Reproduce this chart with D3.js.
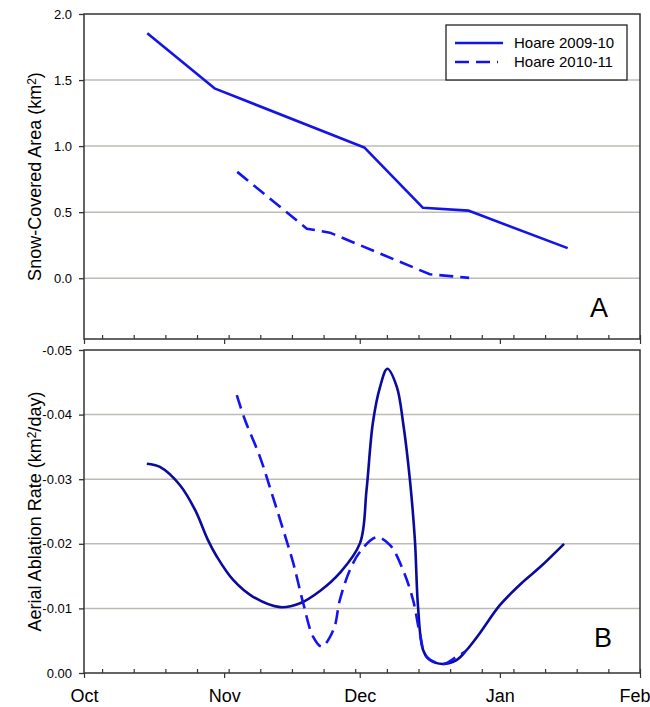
<!DOCTYPE html>
<html>
<head>
<meta charset="utf-8">
<script src="https://cdn.jsdelivr.net/npm/d3@7"></script>
<style>
  body { margin: 0; background: #fff; }
  svg text { font-family: Arial, "Liberation Sans", sans-serif; fill: #000; }
</style>
</head>
<body>
<div id="chart"></div>
<script>
// days counted from Oct 1 of each season
const areaDays0910 = [14, 29, 62, 75, 85, 107];
const areaVals0910 = [1.855, 1.435, 0.99, 0.533, 0.512, 0.228];
const areaDays1011 = [33.9, 49.3, 54.4, 76.5, 85.2];
const areaVals1011 = [0.805, 0.375, 0.345, 0.03, 0.003];

const rateDays0910 = [13.9, 16.8, 21.2, 24.6, 27.4, 29.4, 33, 37.4, 43.4, 47.8, 52.2, 56.6, 61.06,
  62.5, 63.9, 65.5, 67.1, 69.2, 70.6, 72.1, 73.2, 73.9, 75, 76.5, 79.4, 82.4, 84.7, 87.6, 92, 97.1, 100.9, 106.2];
const rateVals0910 = [-0.0324, -0.0319, -0.0291, -0.0252, -0.0206, -0.018, -0.0144, -0.0118, -0.0102, -0.0108,
  -0.0127, -0.0155, -0.0201, -0.0283, -0.0387, -0.0443, -0.0471, -0.0443, -0.0387, -0.0299, -0.0206, -0.0102,
  -0.0036, -0.002, -0.0014, -0.002, -0.0036, -0.0062, -0.0105, -0.0141, -0.0164, -0.02];
const rateDays1011 = [33.8, 35.6, 38.9, 41.5, 44.1, 46.3, 48.5, 50.7, 52.6, 55.2, 56.6, 58.8, 61.1, 64.7,
  67.7, 70.6, 72.8, 74.3, 75.8, 79.5, 82.4, 84.3];
const rateVals1011 = [-0.043, -0.0392, -0.0335, -0.0279, -0.0221, -0.017, -0.0108, -0.0056, -0.0041, -0.0067,
  -0.0113, -0.0159, -0.0188, -0.021, -0.0198, -0.0159, -0.0113, -0.0061, -0.0025, -0.0014, -0.0025, -0.0033];

const areaTicks = [0, 0.5, 1.0, 1.5, 2.0];
const rateTicks = [0, -0.01, -0.02, -0.03, -0.04, -0.05];
const seriesNames = ["Hoare 2009-10", "Hoare 2010-11"];

const width = 650, height = 707;
const left = 84, right = 640;
const start = new Date(Date.UTC(2009, 9, 1)), end = new Date(Date.UTC(2010, 1, 1));
const toDate = (d) => new Date(start.getTime() + d * 864e5);

const svg = d3.select("#chart").append("svg").attr("width", width).attr("height", height);

const x = d3.scaleUtc().domain([start, end]).range([left, right]);
const yA = d3.scaleLinear().domain([-0.46, 2]).range([339, 14]);
const yB = d3.scaleLinear().domain([0, -0.05]).range([673, 350]);

const months = d3.utcMonth.range(start, d3.utcDay.offset(end, 1));
const weeks = d3.utcMonday.range(start, d3.utcDay.offset(end, 1));

const gridColor = "#bcbcb4", axisColor = "#333";

function panel(y, ticks, fmt, top, bottom, showMonths) {
  // grid
  svg.append("g").selectAll("line")
    .data(ticks.filter((t) => y(t) > top + 1 && y(t) < bottom - 1))
    .enter().append("line")
    .attr("x1", left).attr("x2", right)
    .attr("y1", (d) => y(d)).attr("y2", (d) => y(d))
    .attr("stroke", gridColor).attr("stroke-width", 1.5);

  // frame
  svg.append("rect")
    .attr("x", left).attr("y", top)
    .attr("width", right - left).attr("height", bottom - top)
    .attr("fill", "none").attr("stroke", axisColor).attr("stroke-width", 1.5);

  const yAxis = svg.append("g")
    .attr("transform", `translate(${left},0)`)
    .call(d3.axisLeft(y).tickValues(ticks).tickFormat(fmt).tickSize(5).tickPadding(7));
  yAxis.select(".domain").remove();
  yAxis.selectAll("line").attr("stroke", axisColor).attr("stroke-width", 1.3);
  yAxis.selectAll("text").style("font-size", "13px");

  const minor = svg.append("g")
    .attr("transform", `translate(0,${bottom})`)
    .call(d3.axisBottom(x).tickValues(weeks).tickFormat("").tickSize(-4));
  minor.select(".domain").remove();
  minor.selectAll("line").attr("stroke", axisColor).attr("stroke-width", 1.2);

  const major = svg.append("g")
    .attr("transform", `translate(0,${bottom})`)
    .call(d3.axisBottom(x).tickValues(months)
      .tickFormat(showMonths ? d3.utcFormat("%b") : "")
      .tickSize(5).tickPadding(11));
  major.select(".domain").remove();
  major.selectAll("line").attr("stroke", axisColor).attr("stroke-width", 1.2);
  major.selectAll("text").style("font-size", "18px");
  // keep the last month label inside the page
  major.selectAll("text").filter((d, i, n) => i === n.length - 1).attr("dx", "-0.3em");
}

panel(yA, areaTicks, d3.format(".1f"), 14, 339, false);
panel(yB, rateTicks, (d) => d.toFixed(2), 350, 673, true);

// panel A lines
const lineA = d3.line().x((d) => x(toDate(d[0]))).y((d) => yA(d[1]));
svg.append("path")
  .attr("d", lineA(d3.zip(areaDays0910, areaVals0910)))
  .attr("fill", "none").attr("stroke", "#1414e6").attr("stroke-width", 2.6)
  .attr("stroke-linejoin", "round");
svg.append("path")
  .attr("d", lineA(d3.zip(areaDays1011, areaVals1011)))
  .attr("fill", "none").attr("stroke", "#1414f0").attr("stroke-width", 2.6)
  .attr("stroke-dasharray", "14,7");

// panel B curves
const lineB = d3.line().x((d) => x(toDate(d[0]))).y((d) => yB(d[1])).curve(d3.curveCatmullRom.alpha(0.5));
svg.append("path")
  .attr("d", lineB(d3.zip(rateDays0910, rateVals0910)))
  .attr("fill", "none").attr("stroke", "#0a0a9c").attr("stroke-width", 2.6);
svg.append("path")
  .attr("d", lineB(d3.zip(rateDays1011, rateVals1011)))
  .attr("fill", "none").attr("stroke", "#1414f0").attr("stroke-width", 2.6)
  .attr("stroke-dasharray", "14,7");

// axis titles
const tA = svg.append("text")
  .attr("transform", `translate(41,${(14 + 339) / 2}) rotate(-90)`)
  .attr("text-anchor", "middle").style("font-size", "18px");
tA.append("tspan").text("Snow-Covered Area (km");
tA.append("tspan").attr("dy", "-0.45em").style("font-size", "12px").text("2");
tA.append("tspan").attr("dy", "0.3em").text(")");

const tB = svg.append("text")
  .attr("transform", `translate(41,${(350 + 673) / 2}) rotate(-90)`)
  .attr("text-anchor", "middle").style("font-size", "18px");
tB.append("tspan").text("Aerial Ablation Rate (km");
tB.append("tspan").attr("dy", "-0.45em").style("font-size", "12px").text("2");
tB.append("tspan").attr("dy", "0.3em").text("/day)");

// panel letters
svg.append("text").attr("x", 599).attr("y", 317).attr("text-anchor", "middle")
  .style("font-size", "27px").text("A");
svg.append("text").attr("x", 603).attr("y", 647).attr("text-anchor", "middle")
  .style("font-size", "27px").text("B");

// legend
const legend = svg.append("g");
legend.append("rect").attr("x", 446).attr("y", 25).attr("width", 181).attr("height", 55)
  .attr("fill", "#fff").attr("stroke", "#222").attr("stroke-width", 1.3);
const ly = d3.scalePoint().domain(seriesNames).range([43, 62]);
legend.selectAll(".lg-line").data(seriesNames).enter().append("line")
  .attr("x1", 455).attr("x2", (d, i) => (i === 0 ? 503 : 498))
  .attr("y1", (d) => ly(d)).attr("y2", (d) => ly(d))
  .attr("stroke", "#1414e6").attr("stroke-width", 2.6)
  .attr("stroke-dasharray", (d, i) => (i === 0 ? null : "14,7"));
legend.selectAll(".lg-text").data(seriesNames).enter().append("text")
  .attr("x", 514).attr("y", (d) => ly(d)).attr("dy", "0.35em")
  .style("font-size", "15px").text((d) => d);
</script>
</body>
</html>
